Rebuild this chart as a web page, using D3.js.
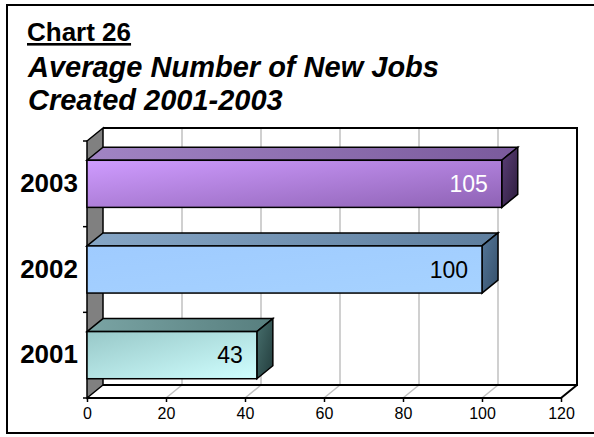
<!DOCTYPE html>
<html>
<head>
<meta charset="utf-8">
<script src="https://cdn.jsdelivr.net/npm/d3@7"></script>
<style>
  html, body { margin: 0; padding: 0; background: #fff; }
  svg { display: block; font-family: "Liberation Sans", Arial, sans-serif; }
</style>
</head>
<body>
<svg id="chart" width="594" height="437"></svg>
<script>
// Chart data
const categories = ["2001", "2002", "2003"];
const values = [43, 100, 105];
const xTicks = [0, 20, 40, 60, 80, 100, 120];
const titleLines = ["Average Number of New Jobs", "Created 2001-2003"];
const chartLabel = "Chart 26";

// Per-bar shading: front (light, dark), top, side (light, dark), label colour
const barColors = {
  "2003": { f1: "#cf9cff", f2: "#8e62b4", top1: "#a184c4", top2: "#7a5a9c", s1: "#5c3f78", s2: "#2c1c3c", label: "#ffffff" },
  "2002": { f1: "#9fcbff", f2: "#a6d2ff", top1: "#86a6c6", top2: "#5e7e9e", s1: "#56789a", s2: "#344f6a", label: "#000000" },
  "2001": { f1: "#98c8c8", f2: "#d0ffff", top1: "#7aa4a4", top2: "#577e7e", s1: "#48706e", s2: "#223c3c", label: "#000000" }
};

const svg = d3.select("#chart");
const W = 594, H = 437;

// Plot frame (front plane) and 3D depth offset
const pLeft = 87, pRight = 561, pTop = 141, pBottom = 398;
const dx = 16, dy = -13;

const x = d3.scaleLinear().domain([0, 120]).range([pLeft, pRight]);
const y = d3.scaleBand().domain(categories.slice().reverse()).range([pTop, pBottom])
  .paddingInner(0.45).paddingOuter(0.225);

// Outer frame
svg.append("rect")
  .attr("x", 7).attr("y", 5).attr("width", W + 10).attr("height", 428)
  .attr("fill", "#fff").attr("stroke", "#000").attr("stroke-width", 2);

// Titles
svg.append("text")
  .attr("x", 27).attr("y", 41)
  .attr("font-size", 26).attr("font-weight", "bold")
  .attr("text-decoration", "underline")
  .text(chartLabel);
svg.selectAll("text.title").data(titleLines).join("text")
  .attr("class", "title")
  .attr("x", 28).attr("y", (d, i) => 77 + i * 33)
  .attr("font-size", 29).attr("font-weight", "bold").attr("font-style", "italic")
  .text(d => d);

const defs = svg.append("defs");
categories.forEach(c => {
  const col = barColors[c];
  const gf = defs.append("linearGradient").attr("id", "front" + c)
    .attr("x1", 0).attr("y1", 0).attr("x2", 1).attr("y2", 1);
  gf.append("stop").attr("offset", 0).attr("stop-color", col.f1);
  gf.append("stop").attr("offset", 1).attr("stop-color", col.f2);
  const gt = defs.append("linearGradient").attr("id", "top" + c)
    .attr("x1", 0).attr("y1", 0).attr("x2", 1).attr("y2", 0);
  gt.append("stop").attr("offset", 0).attr("stop-color", col.top1);
  gt.append("stop").attr("offset", 1).attr("stop-color", col.top2);
  const gs = defs.append("linearGradient").attr("id", "side" + c)
    .attr("x1", 0).attr("y1", 0).attr("x2", 1).attr("y2", 1);
  gs.append("stop").attr("offset", 0).attr("stop-color", col.s1);
  gs.append("stop").attr("offset", 1).attr("stop-color", col.s2);
});

const g = svg.append("g");
const poly = pts => "M" + pts.map(p => p.join(",")).join("L") + "Z";

// Back wall
g.append("rect")
  .attr("x", pLeft + dx).attr("y", pTop + dy)
  .attr("width", pRight - pLeft).attr("height", pBottom - pTop)
  .attr("fill", "#fff");

// Gridlines on the back wall and across the floor
const inner = xTicks.filter(t => t > 0 && t < 120);
g.selectAll("line.grid").data(inner).join("line")
  .attr("class", "grid")
  .attr("x1", d => x(d) + dx).attr("x2", d => x(d) + dx)
  .attr("y1", pTop + dy).attr("y2", pBottom + dy)
  .attr("stroke", "#c0c0c0").attr("stroke-width", 1.5);
g.selectAll("line.floor").data(inner).join("line")
  .attr("class", "floor")
  .attr("x1", d => x(d)).attr("y1", pBottom)
  .attr("x2", d => x(d) + dx).attr("y2", pBottom + dy)
  .attr("stroke", "#c0c0c0").attr("stroke-width", 1.5);

// Back wall outline
g.append("path")
  .attr("d", `M${pLeft + dx},${pTop + dy}L${pRight + dx},${pTop + dy}L${pRight + dx},${pBottom + dy}L${pLeft + dx},${pBottom + dy}`)
  .attr("fill", "none").attr("stroke", "#000").attr("stroke-width", 2);

// Left side wall
g.append("path")
  .attr("d", poly([[pLeft, pTop], [pLeft + dx, pTop + dy], [pLeft + dx, pBottom + dy], [pLeft, pBottom]]))
  .attr("fill", "#808080").attr("stroke", "#000").attr("stroke-width", 1.5);

// Floor front edge and right edge
g.append("path")
  .attr("d", `M${pLeft},${pBottom}L${pRight},${pBottom}L${pRight + dx},${pBottom + dy}`)
  .attr("fill", "none").attr("stroke", "#000").attr("stroke-width", 2);

// Bars
const bars = g.selectAll("g.bar").data(categories.map((c, i) => ({ c, v: values[i] })))
  .join("g").attr("class", "bar");
bars.append("path")
  .attr("d", d => {
    const y0 = y(d.c), x0 = x(0), x1 = x(d.v);
    return poly([[x0, y0], [x0 + dx, y0 + dy], [x1 + dx, y0 + dy], [x1, y0]]);
  })
  .attr("fill", d => `url(#top${d.c})`).attr("stroke", "#000").attr("stroke-width", 1.5);
bars.append("path")
  .attr("d", d => {
    const y0 = y(d.c), y1 = y0 + y.bandwidth(), x1 = x(d.v);
    return poly([[x1, y0], [x1 + dx, y0 + dy], [x1 + dx, y1 + dy], [x1, y1]]);
  })
  .attr("fill", d => `url(#side${d.c})`).attr("stroke", "#000").attr("stroke-width", 1.5);
bars.append("rect")
  .attr("x", x(0)).attr("y", d => y(d.c))
  .attr("width", d => x(d.v) - x(0)).attr("height", y.bandwidth())
  .attr("fill", d => `url(#front${d.c})`).attr("stroke", "#000").attr("stroke-width", 1.5);
bars.append("text")
  .attr("x", d => x(d.v) - 14)
  .attr("y", d => y(d.c) + y.bandwidth() / 2)
  .attr("dy", "0.36em")
  .attr("text-anchor", "end")
  .attr("font-size", 23)
  .attr("fill", d => barColors[d.c].label)
  .text(d => d.v);

// Category axis
const yAxis = g.append("g").attr("transform", `translate(${pLeft},0)`)
  .call(d3.axisLeft(y).tickSize(0).tickPadding(9));
yAxis.select(".domain").remove();
yAxis.selectAll("text").attr("font-size", 26).attr("font-weight", "bold")
  .attr("font-family", "Liberation Sans, Arial, sans-serif").attr("fill", "#000");
const edgeYs = d3.range(categories.length + 1).map(i => pTop + i * y.step());
g.selectAll("line.ytick").data(edgeYs).join("line")
  .attr("class", "ytick")
  .attr("x1", pLeft - 4).attr("x2", pLeft).attr("y1", d => d).attr("y2", d => d)
  .attr("stroke", "#000").attr("stroke-width", 1.5);

// Value axis
const xAxis = g.append("g").attr("transform", `translate(0,${pBottom})`)
  .call(d3.axisBottom(x).tickValues(xTicks).tickSize(4).tickPadding(6));
xAxis.select(".domain").remove();
xAxis.selectAll("line").attr("stroke", "#000").attr("stroke-width", 1.5);
xAxis.selectAll("text").attr("font-size", 16)
  .attr("font-family", "Liberation Sans, Arial, sans-serif").attr("fill", "#000");
</script>
</body>
</html>
